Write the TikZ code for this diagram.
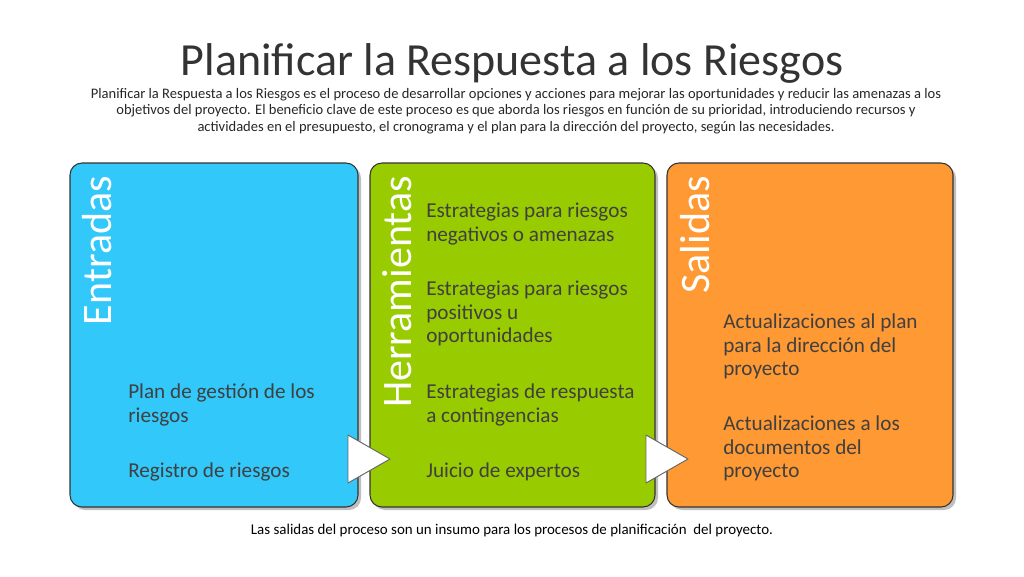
\documentclass[tikz,border=0pt]{standalone}
\usepackage{fontspec}
\setmainfont{Carlito}
\begin{document}
\begin{tikzpicture}[x=0.75pt,y=-0.75pt,
  panel/.style={draw=black!80,line width=0.8pt,rounded corners=9pt},
  ptitle/.style={rotate=90,anchor=north east,text=white,font=\fontsize{31.5}{31.5}\selectfont,inner sep=0pt},
  item/.style={anchor=north west,align=left,text=black!75,font=\fontsize{15.9}{17.6}\selectfont,inner sep=0pt},
  tri/.style={draw=black!60,fill=white,line width=0.7pt,line join=round}]
\useasboundingbox (0,0) rectangle (1024,576);
\node[font=\fontsize{34.5}{34.5}\selectfont,text=black!80] (title) at (512,63) {Planificar la Respuesta a los Riesgos};
\node[align=center,font=\fontsize{10.9}{12.4}\selectfont,text=black!85] (desc) at (516,111) {Planificar la Respuesta a los Riesgos es el proceso de desarrollar opciones y acciones para mejorar las oportunidades y reducir las amenazas a los\\objetivos del proyecto. El beneficio clave de este proceso es que aborda los riesgos en función de su prioridad, introduciendo recursos y\\actividades en el presupuesto, el cronograma y el plan para la dirección del proyecto, según las necesidades.};
\fill[black!25,rounded corners=9pt] (73,166) rectangle (361,510);
\fill[black!25,rounded corners=9pt] (373,166) rectangle (658,510);
\fill[black!25,rounded corners=9pt] (670,166) rectangle (956,510);
\draw[panel,fill={rgb,255:red,50;green,200;blue,250}] (70,163) rectangle (358,507);
\draw[panel,fill={rgb,255:red,153;green,204;blue,0}] (370,163) rectangle (655,507);
\draw[panel,fill={rgb,255:red,255;green,153;blue,51}] (667,163) rectangle (953,507);
\node[ptitle] (t1) at (82,176) {Entradas};
\node[ptitle] (t2) at (382,176) {Herramientas};
\node[ptitle] (t3) at (680,176) {Salidas};
\node[item] (a1) at (128,384) {Plan de gestión de los\\riesgos};
\node[item] (a2) at (128,463) {Registro de riesgos};
\node[item] (b1) at (426,203) {Estrategias para riesgos\\negativos o amenazas};
\node[item] (b2) at (426,281) {Estrategias para riesgos\\positivos u\\oportunidades};
\node[item] (b3) at (426,384) {Estrategias de respuesta\\a contingencias};
\node[item] (b4) at (426,463) {Juicio de expertos};
\node[item] (c1) at (723,314) {Actualizaciones al plan\\para la dirección del\\proyecto};
\node[item] (c2) at (723,416) {Actualizaciones a los\\documentos del\\proyecto};
\draw[tri] (348,435) -- (390,459) -- (348,483) -- cycle;
\draw[tri] (646,435) -- (688,459) -- (646,483) -- cycle;
\node[font=\fontsize{11.2}{12}\selectfont] (foot) at (512,531) {Las salidas del proceso son un insumo para los procesos de planificación\ \ del proyecto.};
\end{tikzpicture}
\end{document}
